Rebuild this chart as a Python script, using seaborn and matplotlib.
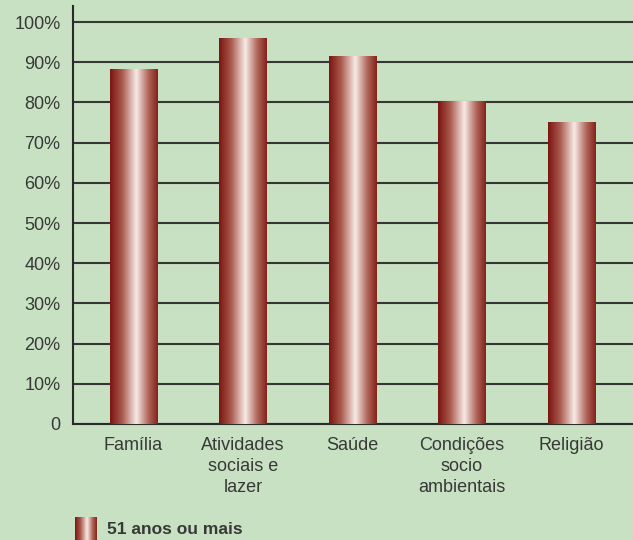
import numpy as np
import pandas as pd
import matplotlib
matplotlib.use("Agg")
import matplotlib.pyplot as plt
from matplotlib.colors import LinearSegmentedColormap
import seaborn as sns

categories = ["Família", "Atividades\nsociais e\nlazer", "Saúde", "Condições\nsocio\nambientais", "Religião"]
values = [88.2, 95.8, 91.5, 80.2, 75.1]
yticks = [0, 10, 20, 30, 40, 50, 60, 70, 80, 90, 100]
ytick_labels = ["0", "10%", "20%", "30%", "40%", "50%", "60%", "70%", "80%", "90%", "100%"]
series_name = "51 anos ou mais"

BG = "#c7e1c2"
TXT = "#383838"
sns.set_theme(style="white")
plt.rcParams["font.family"] = ["Liberation Sans", "DejaVu Sans"]

df = pd.DataFrame({"cat": categories, "val": values})

fig = plt.figure(figsize=(6.33, 5.40), dpi=100, facecolor=BG)
ax = fig.add_axes([73/633, 1 - 424/540, 1 - 73/633, (424 - 6)/540])
ax.set_facecolor(BG)

sns.barplot(data=df, x="cat", y="val", ax=ax, width=0.43, color="#8b2a20", zorder=3)

cmap = LinearSegmentedColormap.from_list(
    "cyl", [(0.0, "#7a1510"), (0.25, "#a9584c"), (0.55, "#f7ebe6"), (0.8, "#b0665a"), (1.0, "#84221a")])
grad = np.linspace(0, 1, 256).reshape(1, -1)
for p in ax.patches:
    x0, y0 = p.get_x(), p.get_y()
    w, h = p.get_width(), p.get_height()
    p.set_facecolor("none")
    p.set_edgecolor("none")
    ax.imshow(grad, cmap=cmap, aspect="auto", extent=[x0, x0 + w, y0, y0 + h],
              zorder=3, interpolation="bicubic")

ax.set_xlim(-0.55, 4.56)
ax.set_ylim(0, 104)
ax.set_yticks(yticks)
ax.set_yticklabels(ytick_labels)
ax.yaxis.grid(True, color="#363636", linewidth=1.5, zorder=1)
ax.set_axisbelow(True)
ax.tick_params(axis="y", length=0, pad=9, labelsize=13, labelcolor=TXT)
ax.tick_params(axis="x", length=0, pad=9.5, labelsize=13, labelcolor=TXT)
for lab in ax.get_xticklabels():
    lab.set_linespacing(1.3)
ax.set_xlabel("")
ax.set_ylabel("")
for s in ["top", "right"]:
    ax.spines[s].set_visible(False)
ax.spines["left"].set_color("#2a2a2a")
ax.spines["left"].set_linewidth(1.5)
ax.spines["bottom"].set_color("#2a2a2a")
ax.spines["bottom"].set_linewidth(1.5)

# legend swatch with gradient
lax = fig.add_axes([75/633, 0, 22/633, 23/540])
lax.imshow(grad, cmap=cmap, aspect="auto", interpolation="bicubic")
lax.axis("off")
fig.text(107/633, 1 - 530/540, series_name, fontsize=12.5, fontweight="bold",
         color=TXT, va="center", ha="left")

fig.savefig("out.png", dpi=100, facecolor=BG)
